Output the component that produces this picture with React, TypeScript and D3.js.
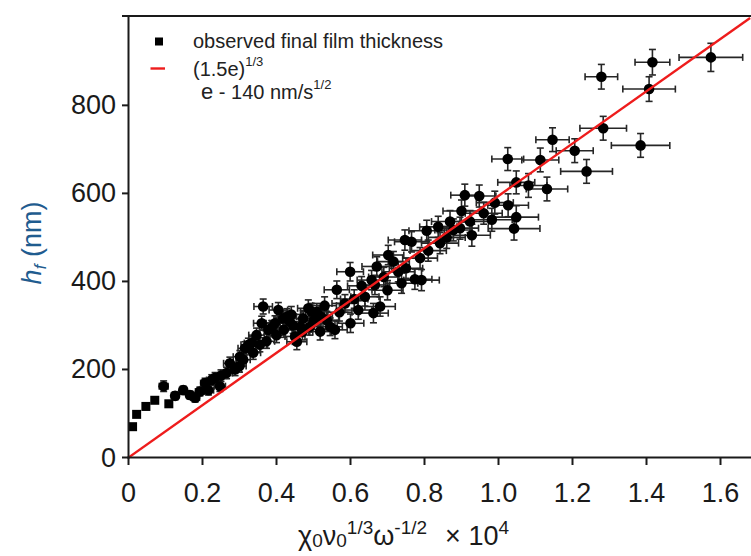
import React from "react";
import * as d3 from "d3";

// ---- data ----
const xTicks = [0, 0.2, 0.4, 0.6, 0.8, 1.0, 1.2, 1.4, 1.6];
const xTickLabels = ["0", "0.2", "0.4", "0.6", "0.8", "1.0", "1.2", "1.4", "1.6"];
const yTicks = [0, 200, 400, 600, 800];
const yTickLabels = ["0", "200", "400", "600", "800"];

const obsX = [
  0.011, 0.022, 0.047, 0.071, 0.095, 0.109, 0.126, 0.148, 0.166, 0.18,
  0.193, 0.207, 0.216, 0.225, 0.234, 0.247, 0.25, 0.265, 0.274, 0.288,
  0.3, 0.301, 0.31, 0.315, 0.324, 0.333, 0.337, 0.346, 0.355, 0.36,
  0.364, 0.373, 0.378, 0.387, 0.396, 0.4, 0.405, 0.418, 0.42, 0.428,
  0.436, 0.44, 0.445, 0.45, 0.455, 0.464, 0.47, 0.472, 0.486, 0.49,
  0.495, 0.5, 0.509, 0.518, 0.52, 0.53, 0.536, 0.545, 0.558, 0.563,
  0.57, 0.585, 0.599, 0.6, 0.61, 0.621, 0.63, 0.639, 0.657, 0.662,
  0.666, 0.671, 0.68, 0.69, 0.7, 0.702, 0.716, 0.729, 0.738, 0.747,
  0.75, 0.765, 0.774, 0.788, 0.792, 0.806, 0.81, 0.837, 0.842, 0.86,
  0.869, 0.878, 0.896, 0.9, 0.909, 0.923, 0.928, 0.948, 0.96, 0.982,
  0.99, 1.025, 1.026, 1.042, 1.048, 1.048, 1.081, 1.113, 1.131, 1.146,
  1.206, 1.238, 1.278, 1.283, 1.384, 1.407, 1.416, 1.574,
];
const obsH = [
  70, 98, 116, 130, 162, 122, 140, 153, 142, 136,
  150, 169, 153, 176, 181, 162, 186, 192, 214, 200,
  208, 229, 222, 248, 256, 260, 238, 278, 256, 305,
  343, 264, 290, 294, 305, 278, 335, 316, 290, 320,
  309, 325, 300, 275, 263, 297, 285, 316, 339, 297,
  331, 310, 331, 286, 320, 345, 312, 297, 290, 381,
  330, 350, 422, 305, 360, 335, 390, 365, 403, 328,
  392, 434, 343, 410, 380, 460, 445, 422, 396, 494,
  430, 490, 405, 453, 403, 515, 470, 524, 487, 500,
  536, 517, 521, 560, 596, 536, 505, 594, 555, 540,
  579, 678, 573, 520, 546, 625, 618, 676, 610, 722,
  697, 650, 865, 748, 709, 837, 898, 909,
];
const errX = [
  0, 0, 0, 0, 0.012, 0, 0.01, 0.01, 0.01, 0.012,
  0.012, 0.012, 0.014, 0.014, 0.014, 0.015, 0.015, 0.016, 0.017, 0.017,
  0.018, 0.018, 0.019, 0.019, 0.02, 0.02, 0.02, 0.021, 0.021, 0.022,
  0.025, 0.022, 0.023, 0.023, 0.024, 0.024, 0.025, 0.025, 0.025, 0.026,
  0.026, 0.026, 0.027, 0.027, 0.027, 0.028, 0.028, 0.028, 0.029, 0.029,
  0.03, 0.03, 0.03, 0.031, 0.031, 0.032, 0.032, 0.033, 0.033, 0.034,
  0.034, 0.035, 0.036, 0.036, 0.037, 0.037, 0.038, 0.038, 0.039, 0.04,
  0.04, 0.04, 0.041, 0.041, 0.042, 0.042, 0.043, 0.044, 0.044, 0.045,
  0.045, 0.046, 0.046, 0.047, 0.048, 0.048, 0.049, 0.05, 0.05, 0.05,
  0.05, 0.05, 0.05, 0.05, 0.038, 0.05, 0.05, 0.045, 0.05, 0.055,
  0.05, 0.043, 0.055, 0.07, 0.06, 0.05, 0.05, 0.05, 0.056, 0.045,
  0.05, 0.07, 0.044, 0.063, 0.079, 0.071, 0.047, 0.086,
];
const errH = [
  0, 0, 0, 0, 12, 0, 9, 9, 9, 10,
  10, 11, 11, 12, 12, 12, 13, 13, 14, 14,
  14, 14, 15, 15, 15, 15, 15, 16, 16, 16,
  17, 16, 16, 17, 17, 17, 17, 17, 17, 18,
  18, 18, 18, 18, 18, 18, 18, 18, 19, 19,
  19, 19, 19, 19, 19, 20, 20, 20, 20, 20,
  20, 20, 21, 21, 21, 21, 21, 21, 22, 22,
  22, 22, 22, 22, 22, 22, 23, 23, 23, 23,
  23, 23, 23, 24, 24, 24, 24, 24, 24, 25,
  25, 25, 25, 25, 25, 25, 25, 25, 25, 26,
  26, 26, 26, 26, 26, 26, 27, 27, 27, 27,
  27, 27, 28, 27, 27, 28, 29, 32,
];

const eValue = 140; // nm/s^1/2
const fitDomain = [0, 1.68];

const legendLabels = ["observed final film thickness"];

export default function App() {
  const W = 751;
  const H = 556;
  const x = d3.scaleLinear().domain([0, 1.68]).range([128.5, 128.5 + 370 * 1.68]);
  const y = d3.scaleLinear().domain([0, 1003]).range([457.5, 16]);

  const slope = Math.cbrt(1.5 * eValue) * 100;
  const fitLine = d3
    .line<number>()
    .x((d) => x(d))
    .y((d) => y(slope * d));

  const pts = obsX.map((v, i) => ({ x: v, h: obsH[i], ex: errX[i], eh: errH[i] }));
  const cap = 3.5;
  const font = "'Liberation Sans', Arial, sans-serif";
  const axisColor = "#1a1a1a";

  return (
    <svg
      width={W}
      height={H}
      style={{ position: "absolute", left: 0, top: 0, background: "#fff" }}
      fontFamily={font}
    >
      <defs>
        <clipPath id="plotClip">
          <rect x={128.5} y={16} width={W - 128.5} height={457.5 - 16 + 2} />
        </clipPath>
      </defs>

      {/* error bars */}
      <g stroke="#262626" strokeWidth={1.6} fill="none">
        {pts.map((p, i) =>
          p.ex > 0 ? (
            <g key={i}>
              <line x1={x(p.x - p.ex)} x2={x(p.x + p.ex)} y1={y(p.h)} y2={y(p.h)} />
              <line x1={x(p.x - p.ex)} x2={x(p.x - p.ex)} y1={y(p.h) - cap} y2={y(p.h) + cap} />
              <line x1={x(p.x + p.ex)} x2={x(p.x + p.ex)} y1={y(p.h) - cap} y2={y(p.h) + cap} />
              <line x1={x(p.x)} x2={x(p.x)} y1={y(p.h - p.eh)} y2={y(p.h + p.eh)} />
              <line x1={x(p.x) - cap} x2={x(p.x) + cap} y1={y(p.h - p.eh)} y2={y(p.h - p.eh)} />
              <line x1={x(p.x) - cap} x2={x(p.x) + cap} y1={y(p.h + p.eh)} y2={y(p.h + p.eh)} />
            </g>
          ) : null
        )}
      </g>

      {/* markers */}
      <g fill="#000">
        {pts.map((p, i) =>
          p.ex > 0 ? (
            <circle key={i} cx={x(p.x)} cy={y(p.h)} r={5.3} />
          ) : (
            <rect key={i} x={x(p.x) - 4.5} y={y(p.h) - 4.5} width={9} height={9} />
          )
        )}
      </g>

      {/* fit line */}
      <path
        d={fitLine(fitDomain) || ""}
        stroke="#ee1c1c"
        strokeWidth={2.4}
        fill="none"
        clipPath="url(#plotClip)"
      />

      {/* axes */}
      <g stroke={axisColor} strokeWidth={2}>
        <line x1={128.5} x2={128.5} y1={16} y2={458.5} />
        <line x1={127.5} x2={W} y1={457.5} y2={457.5} />
        <line x1={122} x2={W} y1={16} y2={16} />
        {yTicks.map((t) => (
          <line key={t} x1={122} x2={128.5} y1={y(t)} y2={y(t)} />
        ))}
        {xTicks.map((t) => (
          <line key={t} x1={x(t)} x2={x(t)} y1={457.5} y2={465} />
        ))}
      </g>

      {/* tick labels */}
      <g fill={axisColor} fontSize={27}>
        {yTicks.map((t, i) => (
          <text key={t} x={116} y={y(t)} textAnchor="end" dominantBaseline="central">
            {yTickLabels[i]}
          </text>
        ))}
        {xTicks.map((t, i) => (
          <text key={t} x={x(t)} y={502} textAnchor="middle">
            {xTickLabels[i]}
          </text>
        ))}
      </g>

      {/* y axis title */}
      <text
        transform="translate(41,243) rotate(-90)"
        textAnchor="middle"
        fill="#1f5c8f"
        fontSize={27}
      >
        <tspan fontStyle="italic">h</tspan>
        <tspan fontStyle="italic" fontSize={17} dy={5}>f</tspan>
        <tspan dy={-5}> (nm)</tspan>
      </text>

      {/* x axis title */}
      <text x={298} y={545} fill={axisColor} fontSize={27}>
        <tspan>χ</tspan>
        <tspan fontSize={19} dy={2}>0</tspan>
        <tspan dy={-2}>ν</tspan>
        <tspan fontSize={19} dy={2}>0</tspan>
        <tspan fontSize={19} dy={-13}>1/3</tspan>
        <tspan dy={11}>ω</tspan>
        <tspan fontSize={19} dy={-11}>-1/2</tspan>
        <tspan dx={18} dy={11}>× 10</tspan>
        <tspan fontSize={19} dy={-11}>4</tspan>
      </text>

      {/* legend */}
      <g fill="#222" fontSize={20}>
        <rect x={155} y={37.5} width={8} height={8} fill="#000" />
        <text x={193} y={48}>{legendLabels[0]}</text>
        <line x1={150.5} x2={165} y1={68.5} y2={68.5} stroke="#ee1c1c" strokeWidth={2.4} />
        <text x={193} y={76}>
          <tspan>(1.5e)</tspan>
          <tspan fontSize={13} dy={-10}>1/3</tspan>
        </text>
        <text x={201} y={99}>
          <tspan fontSize={22}>e</tspan>
          <tspan>{" - 140 nm/s"}</tspan>
          <tspan fontSize={13} dy={-10}>1/2</tspan>
        </text>
      </g>
    </svg>
  );
}
